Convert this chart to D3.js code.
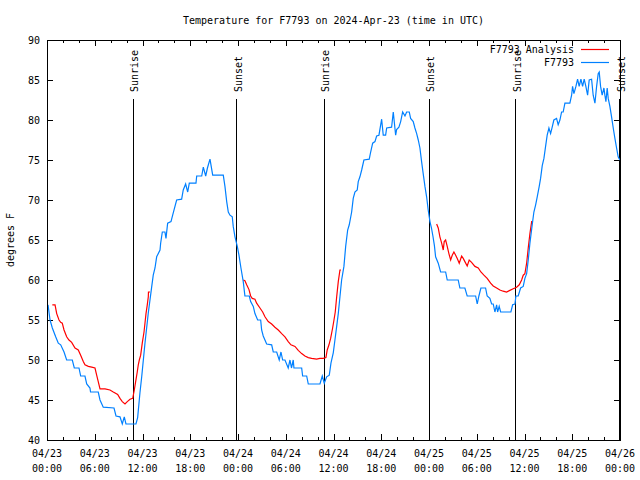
<!DOCTYPE html>
<html><head><meta charset="utf-8">
<script src="https://cdn.jsdelivr.net/npm/d3@7"></script>
<style>
body{margin:0;background:#fff;}
svg{display:block;}
text{font-family:"DejaVu Sans Mono","Liberation Mono",monospace;font-size:10px;fill:#000;}
</style></head>
<body>
<svg id="c" width="640" height="480"></svg>
<script>
// ---- data (hours since 2024-04-23 00:00 UTC) ----
const obsHours = [0.13,0.38,0.67,1.09,1.42,1.72,2.14,2.47,3.18,3.43,4.02,4.23,4.77,4.99,5.40,5.47,6.44,6.66,7.07,8.42,8.67,9.17,9.46,9.71,9.92,11.18,11.39,11.68,11.90,12.31,12.73,13.15,13.35,13.57,13.78,14.20,14.28,14.49,14.82,14.95,15.16,15.58,15.79,16.29,16.92,17.12,17.42,17.68,17.88,18.72,18.81,19.44,19.64,19.94,20.16,20.48,20.82,22.15,22.36,22.58,22.78,22.99,23.28,23.40,23.62,23.91,24.12,24.37,24.66,24.87,25.42,25.59,25.92,26.13,26.47,26.85,26.97,27.17,27.60,28.23,28.43,28.86,29.18,29.40,29.61,29.90,30.31,30.53,30.72,30.94,31.03,32.00,32.12,32.63,32.83,34.30,34.59,34.84,35.14,35.47,35.68,35.97,36.18,36.40,36.60,36.81,37.02,37.31,37.53,37.78,37.98,38.28,38.48,38.69,38.98,39.11,39.32,39.54,39.82,40.49,40.67,40.92,41.21,41.42,41.71,42.05,42.25,42.55,42.68,43.30,43.51,43.81,43.93,44.22,44.44,44.69,44.98,45.19,45.52,45.69,46.02,46.23,46.45,46.65,46.86,47.07,47.27,47.49,47.70,47.90,48.12,48.31,48.49,48.68,48.83,49.16,49.46,50.09,50.29,51.67,51.88,52.51,52.80,53.86,54.06,54.27,54.52,55.11,55.31,55.65,55.87,56.07,56.28,56.50,56.62,56.82,57.00,58.29,58.51,58.80,58.92,59.21,59.51,59.84,60.05,60.27,60.47,60.68,60.97,61.18,61.40,61.60,61.85,62.02,62.23,62.44,62.65,62.85,63.07,63.28,63.48,63.69,64.03,64.23,64.45,64.66,64.86,65.08,65.70,65.92,66.04,66.21,66.46,66.67,66.87,67.09,67.30,67.50,67.71,67.93,68.13,68.43,68.63,68.85,69.06,69.26,69.39,69.56,69.76,69.98,70.10,70.23,70.39,70.52,70.73,70.94,71.15,71.36,71.57,71.77,71.98];
const obsTemps = [56.9,55,54,52.9,52.1,51.9,51,50,50,49,49,48,48,47,46.5,46,46,45,44.1,44,43,42.9,42,42.9,42,42,42.8,45.9,47.9,52.1,55.9,59.1,60.6,61.5,62.9,63.75,64.6,66,66,65.2,67.1,67.3,68.1,70,70.1,71.25,72,71,72.1,72.1,73,73,74.1,73,74,75.1,73.1,73.1,71.7,69.8,68.5,68.1,67.9,66.7,65.4,64.2,63.1,61.5,59.8,58,58,57.3,56.7,55.8,55,55,53.75,53,52,51.9,51,51,50,51,50,50,49,50,49,50,49,49,48,48,47,47,48,47.1,47.9,48.1,49.6,50.9,52.5,54.2,55.8,57.9,60,61.7,64.2,66.25,66.9,68.5,70.2,71,71.25,72.3,72.9,73.75,75,75.1,76,77.1,77.3,78,78.1,80.1,78.1,78.1,79,79.1,81,78.1,78.8,79.1,79.8,81,80.5,81,81,80.2,79.8,79,78.3,77.5,76.5,74.8,73.3,71.7,70.4,68.75,67.3,66.5,65.5,64.3,62.9,62.1,61,61,60,60,59,59,58,58,57,58,59,59,58,57.7,57,57,56,56.9,56,56.7,56,56,56.9,57,58,58,59,59.2,60.2,60.8,62.5,64.6,66.9,68.5,69.4,70.4,71.7,72.7,74.3,75.2,76.7,78.1,79,78.3,79.1,80,80.2,79.4,80,81,81,82.1,82.1,83.1,84.2,83.3,84.2,85.1,84.2,85.1,84.2,85.1,84.2,83.1,85,85.1,83.1,82.1,84.2,85.8,86,84.2,83.1,84,83.1,82.3,84,82.7,81.7,80.4,79,77.7,76.5,75.4,75];

const anaHoursA = [0.67,1.01,1.22,1.51,1.72,1.92,2.14,2.47,2.76,3.10,3.52,3.93,4.23,4.56,4.77,5.19,5.62,6.03,6.24,6.44,6.66,7.29,7.91,8.33,8.88,9.17,9.46,9.80,10.09,10.43,10.77,10.97,11.14,11.34,11.47,11.60,11.77,11.97,12.19,12.31,12.44,12.60,12.73,12.75,12.94];
const anaTempsA = [56.9,56.9,55.8,55,54.7,54.6,53.75,52.9,52.5,52.2,51.5,51.25,50.6,49.8,49.4,49.2,49.1,49,48.1,47.3,46.4,46.4,46.25,46,45.7,45.2,44.8,44.5,44.8,45.1,45.2,46.25,47.3,48.5,49.4,50,50.6,52.1,53.5,54.6,55.8,56.9,57.9,58.5,58.5];
const anaHoursB = [24.66,24.87,25.09,25.38,25.59,25.79,26.13,26.34,26.76,27.10,27.39,27.80,28.23,28.64,29.06,29.49,29.90,30.31,30.65,31.16,31.57,32.00,32.41,32.83,33.25,33.88,34.30,34.71,35.05,35.21,35.43,35.64,35.89,36.06,36.22,36.40,36.60,36.81,36.94];
const anaTempsB = [60,59.9,59.4,58.8,58,57.7,57.6,57.1,56.5,56,55.4,54.8,54.5,54.1,53.75,53.3,52.9,52.3,51.9,51.7,51.2,50.8,50.5,50.3,50.2,50.1,50.2,50.2,50.3,51.25,51.9,52.7,54,55,56,57.9,59.8,61.25,61.25];
const anaHoursC = [48.96,49.16,49.37,49.59,49.79,49.91,50.09,50.29,50.50,50.72,50.92,51.13,51.35,51.55,51.80,52.10,52.30,52.51,52.80,53.05,53.35,53.77,54.19,54.52,54.90,55.31,55.74,56.07,56.50,56.91,57.32,57.75,58.16,58.58,59.01,59.34,59.64,59.84,60.05,60.27,60.47,60.68,60.90,60.97];
const anaTempsC = [67,66.5,65.4,64.6,63.75,64.8,65,64.2,63.3,62.5,63.1,63.5,63.1,62.7,62.1,63,62.7,62.3,61.75,62.5,62.2,61.7,61.5,61,60.6,60.2,59.6,59.25,59,58.75,58.6,58.5,58.7,58.9,59.1,59.4,60,60.6,60.8,62.1,64,65.8,67.3,67.3];

const sunLabels = ["Sunrise","Sunset","Sunrise","Sunset","Sunrise","Sunset"];
const sunHours = [10.84,23.83,34.84,48.03,58.92,71.98];
const yTicks = [40,45,50,55,60,65,70,75,80,85,90];
const seriesNames = ["F7793 Analysis","F7793"];
const seriesColors = ["#ff0000","#0080ff"];
const titleText = "Temperature for F7793 on 2024-Apr-23 (time in UTC)";
const yLabel = "degrees F";

// ---- layout ----
const svg = d3.select("#c");
const L = 47, R = 620, T = 40, B = 440;
const t0 = Date.UTC(2024,3,23,0,0);
const toDate = h => new Date(t0 + h*3600e3);
const x = d3.scaleUtc().domain([toDate(0), toDate(72)]).range([L, R]);
const y = d3.scaleLinear().domain([40,90]).range([B, T]);

svg.append("text").attr("x", (L+R)/2).attr("y", 24).attr("text-anchor","middle").text(titleText);

// axes
const major = d3.utcHour.every(6).range(toDate(0), toDate(72.01));
const minor = d3.utcHour.every(2).range(toDate(0), toDate(72.01));

const gMinB = svg.append("g").attr("transform",`translate(0,${B})`)
  .call(d3.axisBottom(x).tickValues(minor).tickSize(-3).tickFormat(""));
const gMinT = svg.append("g").attr("transform",`translate(0,${T})`)
  .call(d3.axisTop(x).tickValues(minor).tickSize(-3).tickFormat(""));
const gB = svg.append("g").attr("transform",`translate(0,${B})`)
  .call(d3.axisBottom(x).tickValues(major).tickSize(-6).tickFormat(""));
const gT = svg.append("g").attr("transform",`translate(0,${T})`)
  .call(d3.axisTop(x).tickValues(major).tickSize(-6).tickFormat(""));
const gL = svg.append("g").attr("transform",`translate(${L},0)`)
  .call(d3.axisLeft(y).tickValues(yTicks).tickSize(-6).tickPadding(7));
const gR = svg.append("g").attr("transform",`translate(${R},0)`)
  .call(d3.axisRight(y).tickValues(yTicks).tickSize(-6).tickFormat(""));
[gMinB,gMinT,gB,gT,gL,gR].forEach(g=>{
  g.select(".domain").remove();
  g.selectAll("text").attr("font-family",null).attr("font-size",null).attr("fill","#000");
  g.selectAll("line").attr("stroke","#000").attr("shape-rendering","crispEdges");
});

// two-line x tick labels
const xl = svg.append("g");
major.forEach(d=>{
  const xx = x(d);
  xl.append("text").attr("x",xx).attr("y",B+17).attr("text-anchor","middle").text(d3.utcFormat("%m/%d")(d));
  xl.append("text").attr("x",xx).attr("y",B+32).attr("text-anchor","middle").text(d3.utcFormat("%H:%M")(d));
});

svg.append("text").attr("transform","translate(14,240) rotate(-90)")
  .attr("text-anchor","middle").text(yLabel);

// sun lines
sunHours.forEach((h,i)=>{
  const xx = x(toDate(h));
  svg.append("line").attr("x1",xx).attr("x2",xx).attr("y1",99).attr("y2",B)
    .attr("stroke","#000").attr("stroke-width",1).attr("shape-rendering","crispEdges");
  svg.append("text").attr("transform",`translate(${xx+5},92) rotate(-90)`)
    .attr("text-anchor","start").text(sunLabels[i]);
});

// series
const line = d3.line().x(d=>x(toDate(d[0]))).y(d=>y(d[1]));
const zip = (a,b)=>a.map((v,i)=>[v,b[i]]);
[[anaHoursA,anaTempsA],[anaHoursB,anaTempsB],[anaHoursC,anaTempsC]].forEach(([h,v])=>{
  svg.append("path").attr("d", line(zip(h,v))).attr("fill","none")
    .attr("stroke",seriesColors[0]).attr("stroke-width",1.2);
});
svg.append("path").attr("d", line(zip(obsHours,obsTemps))).attr("fill","none")
  .attr("stroke",seriesColors[1]).attr("stroke-width",1.2);

// frame
svg.append("rect").attr("x",L).attr("y",T).attr("width",R-L).attr("height",B-T)
  .attr("fill","none").attr("stroke","#000").attr("shape-rendering","crispEdges");

// legend
seriesNames.forEach((n,i)=>{
  const yy = 49.5 + i*13;
  svg.append("text").attr("x",574).attr("y",yy+3.5).attr("text-anchor","end").text(n);
  svg.append("line").attr("x1",581).attr("x2",609).attr("y1",yy).attr("y2",yy)
    .attr("stroke",seriesColors[i]).attr("stroke-width",1.2);
});
</script>
</body></html>
